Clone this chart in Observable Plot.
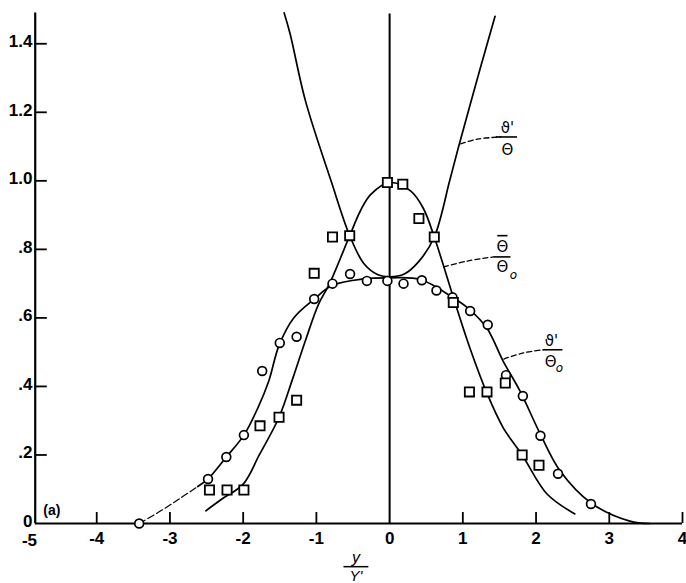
<!DOCTYPE html>
<html>
<head>
<meta charset="utf-8">
<script src="https://cdn.jsdelivr.net/npm/d3@7"></script>
<script src="https://cdn.jsdelivr.net/npm/@observablehq/plot@0.6"></script>
<style>
  html, body { margin: 0; padding: 0; background: #fff; }
</style>
</head>
<body>
<div id="chart"></div>
<script>
// ---- tick values / labels ----
const xTicks = [-5, -4, -3, -2, -1, 0, 1, 2, 3, 4];
const xTickLabels = ["-5", "-4", "-3", "-2", "-1", "0", "1", "2", "3", "4"];
const yTicks = [0, 0.2, 0.4, 0.6, 0.8, 1.0, 1.2, 1.4];
const yTickLabels = ["0", ".2", ".4", ".6", ".8", "1.0", "1.2", "1.4"];

// ---- measured points: circles = ϑ'/Θo, squares = Θ̄/Θo ----
const circleX = [-3.42, -2.48, -2.23, -1.99, -1.74, -1.50, -1.27, -1.03, -0.78, -0.54, -0.31, -0.03, 0.19, 0.44, 0.64, 0.86, 1.10, 1.34, 1.59, 1.82, 2.06, 2.30, 2.75];
const circleY = [0.0, 0.13, 0.194, 0.258, 0.445, 0.527, 0.545, 0.655, 0.70, 0.728, 0.708, 0.708, 0.70, 0.71, 0.68, 0.66, 0.62, 0.58, 0.433, 0.372, 0.256, 0.145, 0.057];

const squareX = [-2.46, -2.22, -1.99, -1.77, -1.51, -1.27, -1.03, -0.78, -0.545, -0.03, 0.18, 0.40, 0.61, 0.87, 1.09, 1.33, 1.58, 1.81, 2.04];
const squareY = [0.098, 0.098, 0.098, 0.285, 0.31, 0.36, 0.73, 0.836, 0.84, 0.995, 0.99, 0.89, 0.836, 0.645, 0.384, 0.384, 0.41, 0.20, 0.17];

// ---- faired curves ----
const rmsCurveDashedX = [-3.42, -3.1, -2.85, -2.62];
const rmsCurveDashedY = [0.0, 0.04, 0.075, 0.108];
const rmsCurveX = [-2.62, -2.48, -2.23, -1.99, -1.80, -1.65, -1.51, -1.31, -1.03, -0.78, -0.35, 0.0, 0.42, 0.86, 1.10, 1.33, 1.55, 1.78, 2.06, 2.33, 2.75, 3.28, 3.55];
const rmsCurveY = [0.108, 0.13, 0.194, 0.258, 0.337, 0.416, 0.52, 0.60, 0.655, 0.695, 0.714, 0.717, 0.712, 0.66, 0.623, 0.57, 0.474, 0.387, 0.26, 0.153, 0.06, 0.007, 0.0];

const meanCurveX = [-2.51, -2.30, -2.0, -1.78, -1.51, -1.32, -1.14, -0.97, -0.82, -0.545, -0.40, -0.26, 0.0, 0.29, 0.46, 0.61, 0.90, 1.10, 1.33, 1.55, 1.81, 2.15, 2.53];
const meanCurveY = [0.037, 0.07, 0.115, 0.20, 0.31, 0.425, 0.54, 0.64, 0.70, 0.84, 0.912, 0.96, 0.995, 0.97, 0.92, 0.836, 0.64, 0.51, 0.38, 0.28, 0.20, 0.086, 0.028];

const ratioCurveX = [-1.44, -1.36, -1.15, -0.80, -0.545, -0.35, -0.16, 0.0, 0.2, 0.4, 0.61, 0.82, 0.93, 1.24, 1.44];
const ratioCurveY = [1.49, 1.43, 1.234, 1.0, 0.84, 0.758, 0.726, 0.72, 0.728, 0.765, 0.836, 1.0, 1.09, 1.33, 1.48];

// ---- leader lines to the curve labels ----
const leaderRatioX = [0.97, 1.20, 1.52];
const leaderRatioY = [1.108, 1.122, 1.128];
const leaderMeanX = [0.74, 1.06, 1.42];
const leaderMeanY = [0.749, 0.766, 0.778];
const leaderRmsX = [1.56, 1.83, 2.10];
const leaderRmsY = [0.48, 0.498, 0.507];

// ---- label texts ----
const labelTexts = ["ϑ'", "Θ", "Θ", "Θ", "ϑ'", "Θ"];
const labelX = [1.61, 1.61, 1.54, 1.54, 2.21, 2.20];
const labelY = [1.155, 1.088, 0.806, 0.748, 0.533, 0.471];
const subX = [1.69, 2.32];
const subY = [0.724, 0.453];
const barX1 = [1.45, 1.42, 2.10, 1.47];
const barX2 = [1.74, 1.65, 2.36, 1.61];
const barY = [1.128, 0.778, 0.507, 0.84];

const axisXPos = -4.84; // where the y-axis line is drawn

const zip = (xs, ys) => xs.map((x, i) => ({x, y: ys[i]}));
const circles = zip(circleX, circleY);
const squares = zip(squareX, squareY);
const rmsDashed = zip(rmsCurveDashedX, rmsCurveDashedY);
const rms = zip(rmsCurveX, rmsCurveY);
const mean = zip(meanCurveX, meanCurveY);
const ratio = zip(ratioCurveX, ratioCurveY);
const labels = labelTexts.map((t, i) => ({t, x: labelX[i], y: labelY[i]}));
const subs = zip(subX, subY);
const bars = barX1.map((x1, i) => ({x1, x2: barX2[i], y: barY[i]}));
const leaders = [zip(leaderRatioX, leaderRatioY), zip(leaderMeanX, leaderMeanY), zip(leaderRmsX, leaderRmsY)];

const font = "'Liberation Sans', Arial, sans-serif";
const fmtX = d => xTickLabels[xTicks.indexOf(d)];

const chart = Plot.plot({
  width: 686,
  height: 583,
  marginLeft: 23,
  marginRight: 4,
  marginTop: 9,
  marginBottom: 60,
  x: {domain: [-5, 4]},
  y: {domain: [0, 1.5]},
  style: {fontFamily: font, fontSize: "17px", color: "black", background: "white"},
  marks: [
    // axes lines
    Plot.ruleX([axisXPos], {y1: 0, y2: 1.49, stroke: "black", strokeWidth: 2.2}),
    Plot.ruleY([0], {x1: axisXPos, x2: 4, stroke: "black", strokeWidth: 2.2}),
    Plot.ruleX([0], {y1: 0, y2: 1.487, stroke: "black", strokeWidth: 2}),
    // inward tick marks
    Plot.ruleX(xTicks.filter(d => d > -5 && d !== 0), {y1: 0, y2: 0.032, stroke: "black", strokeWidth: 1.8}),
    Plot.ruleY(yTicks.filter(d => d > 0), {x1: axisXPos, x2: axisXPos + 0.165, stroke: "black", strokeWidth: 1.8}),
    // tick labels
    Plot.axisX(xTicks.filter(d => d > -5), {tickFormat: fmtX, tickSize: 0, tickPadding: 8, label: null, fontSize: 17, fontWeight: 600}),
    Plot.axisX(xTicks.filter(d => d === -5), {tickFormat: fmtX, tickSize: 0, tickPadding: 10, dx: 6, label: null, fontSize: 17, fontWeight: 600}),
    Plot.axisY(yTicks, {tickFormat: d => yTickLabels[yTicks.indexOf(d)], tickSize: 0, tickPadding: 0, dx: 9, dy: -2, label: null, fontSize: 17, fontWeight: 600}),
    // curves
    Plot.line(rmsDashed, {x: "x", y: "y", curve: "catmull-rom", stroke: "black", strokeWidth: 1.2, strokeDasharray: "7,3"}),
    Plot.line(rms, {x: "x", y: "y", curve: "catmull-rom", stroke: "black", strokeWidth: 1.7}),
    Plot.line(mean, {x: "x", y: "y", curve: "catmull-rom", stroke: "black", strokeWidth: 1.7}),
    Plot.line(ratio, {x: "x", y: "y", curve: "catmull-rom", stroke: "black", strokeWidth: 1.7}),
    // leaders
    ...leaders.map(L => Plot.line(L, {x: "x", y: "y", curve: "catmull-rom", stroke: "black", strokeWidth: 1.3, strokeDasharray: "5,3"})),
    // points
    Plot.dot(circles, {x: "x", y: "y", r: 4.4, stroke: "black", strokeWidth: 1.7, fill: "white"}),
    Plot.dot(squares, {x: "x", y: "y", r: 5.2, symbol: "square", stroke: "black", strokeWidth: 1.8, fill: "white"}),
    // labels
    Plot.text(labels, {x: "x", y: "y", text: "t", fontSize: 15, fontFamily: "'DejaVu Sans', sans-serif", fill: "black"}),
    Plot.text(subs, {x: "x", y: "y", text: () => "o", fontSize: 12, fontStyle: "italic", fontFamily: "'DejaVu Sans', sans-serif", fill: "black"}),
    Plot.link(bars, {x1: "x1", x2: "x2", y1: "y", y2: "y", stroke: "black", strokeWidth: 1.6}),
    // (a)
    Plot.text(["(a)"], {x: -4.73, y: 0.038, text: d => d, textAnchor: "start", fontSize: 14, fontFamily: font, fontWeight: 600}),
    // axis title y / Y'
    Plot.text(["y"], {x: -0.46, y: -0.099, text: d => d, fontSize: 16, fontStyle: "italic", fontFamily: font}),
    Plot.link([{x1: -0.63, x2: -0.29, y: -0.126}], {x1: "x1", x2: "x2", y1: "y", y2: "y", stroke: "black", strokeWidth: 1.5}),
    Plot.text(["Y'"], {x: -0.46, y: -0.154, text: d => d, fontSize: 15, fontStyle: "italic", fontFamily: font})
  ]
});
document.getElementById("chart").appendChild(chart);
</script>
</body>
</html>
